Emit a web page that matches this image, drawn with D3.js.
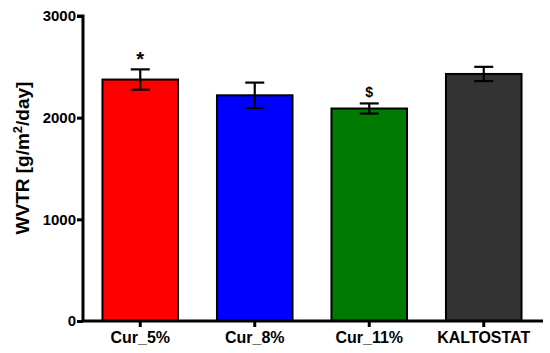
<!DOCTYPE html>
<html>
<head>
<meta charset="utf-8">
<script src="https://cdn.jsdelivr.net/npm/d3@7"></script>
<style>
  body { margin: 0; background: #fff; }
  text { font-family: "Liberation Sans", Arial, sans-serif; font-weight: bold; }
</style>
</head>
<body>
<svg id="chart" width="550" height="353"></svg>
<script>
const categories = ["Cur_5%", "Cur_8%", "Cur_11%", "KALTOSTAT"]
const means = [2375, 2220, 2090, 2430]
const errors = [100, 125, 50, 70]
const marks = ["*", "", "$", ""]
const colors = ["#ff0000", "#0000ff", "#007a00", "#333333"]
const yTicks = [0, 1000, 2000, 3000]

const svg = d3.select("#chart")

const x = d3.scaleBand()
    .domain(categories)
    .range([83, 541])
    .paddingInner(0.34)
    .paddingOuter(0.17)

const y = d3.scaleLinear()
    .domain([0, 3000])
    .range([321, 16])

// bars
svg.selectAll("rect.bar")
    .data(categories)
    .join("rect")
    .attr("class", "bar")
    .attr("x", d => x(d))
    .attr("y", (d, i) => y(means[i]))
    .attr("width", x.bandwidth())
    .attr("height", (d, i) => y(0) - y(means[i]))
    .attr("fill", (d, i) => colors[i])
    .attr("stroke", "#000")
    .attr("stroke-width", 2)

// error bars
const cap = 15
const err = svg.selectAll("g.err")
    .data(categories)
    .join("g")
    .attr("class", "err")
    .attr("stroke", "#000")
    .attr("stroke-width", 2.2)

err.append("line")
    .attr("x1", d => x(d) + x.bandwidth() / 2)
    .attr("x2", d => x(d) + x.bandwidth() / 2)
    .attr("y1", (d, i) => y(means[i] + errors[i]))
    .attr("y2", (d, i) => y(means[i] - errors[i]))
err.append("line")
    .attr("x1", d => x(d) + x.bandwidth() / 2 - cap / 2 - 2)
    .attr("x2", d => x(d) + x.bandwidth() / 2 + cap / 2 + 2)
    .attr("y1", (d, i) => y(means[i] + errors[i]))
    .attr("y2", (d, i) => y(means[i] + errors[i]))
err.append("line")
    .attr("x1", d => x(d) + x.bandwidth() / 2 - cap / 2 - 2)
    .attr("x2", d => x(d) + x.bandwidth() / 2 + cap / 2 + 2)
    .attr("y1", (d, i) => y(means[i] - errors[i]))
    .attr("y2", (d, i) => y(means[i] - errors[i]))

// significance marks
svg.selectAll("text.mark")
    .data(categories)
    .join("text")
    .attr("class", "mark")
    .attr("x", d => x(d) + x.bandwidth() / 2)
    .attr("y", (d, i) => y(means[i] + errors[i]) - (marks[i] === "*" ? 3 : 6))
    .attr("text-anchor", "middle")
    .attr("font-size", (d, i) => marks[i] === "*" ? 20 : 14)
    .text((d, i) => marks[i])

// axes
const yAxis = svg.append("g")
    .attr("transform", "translate(83,0)")
    .call(d3.axisLeft(y).tickValues(yTicks).tickSize(6).tickPadding(1).tickFormat(d3.format("d")))
const xAxis = svg.append("g")
    .attr("transform", "translate(0,321)")
    .call(d3.axisBottom(x).tickSize(6).tickPadding(5).tickSizeOuter(0))

;[yAxis, xAxis].forEach(g => {
    g.select(".domain").attr("stroke", "#000").attr("stroke-width", 3)
    g.selectAll(".tick line").attr("stroke", "#000").attr("stroke-width", 3)
    g.selectAll(".tick text").attr("fill", "#000")
        .style("font-family", "'Liberation Sans', Arial, sans-serif")
        .style("font-weight", "bold")
})
yAxis.selectAll(".tick text").attr("font-size", 15)
xAxis.selectAll(".tick text").attr("font-size", 16)
yAxis.select(".domain").attr("d", "M-6,16H0V322")
xAxis.select(".domain").attr("d", "M81.5,0H543")

// y label
const yl = svg.append("text")
    .attr("transform", "translate(29,158) rotate(-90)")
    .attr("text-anchor", "middle")
    .attr("font-size", 19)
yl.append("tspan").text("WVTR [g/m")
yl.append("tspan").attr("dy", -7).attr("font-size", 13).text("2")
yl.append("tspan").attr("dy", 7).text("/day]")
</script>
</body>
</html>
